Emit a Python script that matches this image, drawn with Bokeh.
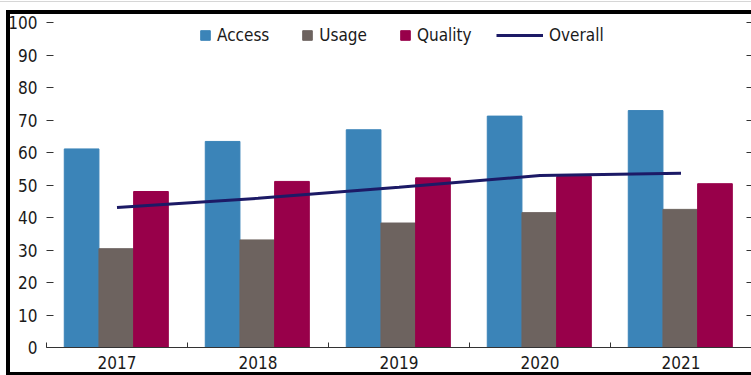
import numpy as np
from bokeh.plotting import figure
from bokeh.models import Range1d, FixedTicker, LinearAxis, Legend, LegendItem, InlineStyleSheet
from bokeh.embed import file_html
from bokeh.resources import INLINE

years = ["2017", "2018", "2019", "2020", "2021"]
access = [61.1, 63.4, 67.0, 71.2, 72.9]
usage = [30.4, 33.1, 38.3, 41.5, 42.5]
quality = [48.0, 51.1, 52.2, 52.6, 50.4]
overall = [43.1, 45.9, 49.3, 52.9, 53.6]
y_ticks = list(range(0, 101, 10))

FONT = "'Liberation Sans Narrow', 'DejaVu Sans Condensed', sans-serif"
C_ACCESS = "#3B84B8"
C_USAGE = "#6D635F"
C_QUALITY = "#98004A"
C_OVERALL = "#1C1A66"
TXT = "#1a1a1a"

pos = np.arange(len(years))
w = 0.246

p = figure(width=751, height=375, x_range=Range1d(-0.5, len(years) - 0.5),
           y_range=Range1d(0, 100), output_backend="svg", toolbar_location=None,
           min_border_left=46, min_border_right=0, min_border_top=22, min_border_bottom=28)
p.outline_line_color = None
p.xgrid.visible = False
p.ygrid.visible = False
p.background_fill_color = "white"
p.border_fill_color = "white"

# x axis
xa = p.xaxis[0]
xa.ticker = FixedTicker(ticks=list(pos), minor_ticks=list(pos - 0.5) + [len(years) - 0.5])
xa.major_label_overrides = {int(i): y for i, y in zip(pos, years)}
xa.major_tick_in = 0
xa.major_tick_out = 0
xa.minor_tick_in = 5
xa.minor_tick_out = 0
xa.axis_line_color = "#333333"
xa.minor_tick_line_color = "#333333"
xa.major_label_standoff = 8
xa.major_label_text_font = FONT
xa.major_label_text_font_size = "17px"
xa.major_label_text_color = TXT

# left y axis
ya = p.yaxis[0]
ya.ticker = FixedTicker(ticks=y_ticks)
ya.major_tick_in = 7
ya.major_tick_out = 0
ya.minor_tick_line_color = None
ya.axis_line_color = None
ya.major_tick_line_color = "#333333"
ya.major_label_standoff = 9
ya.major_label_text_font = FONT
ya.major_label_text_font_size = "17px"
ya.major_label_text_color = TXT

# right y axis (ticks only)
ra = LinearAxis(ticker=FixedTicker(ticks=y_ticks), major_tick_in=5, major_tick_out=0,
                axis_line_color=None, minor_tick_line_color=None,
                major_tick_line_color="#333333",
                major_label_text_font_size="0px", major_label_standoff=0)
ra.major_label_overrides = {t: "" for t in y_ticks}
p.add_layout(ra, "right")

r_a = p.vbar(x=pos - w - 0.005, top=access, width=w, fill_color=C_ACCESS, line_color=C_ACCESS)
r_u = p.vbar(x=pos - 0.005, top=usage, width=w, fill_color=C_USAGE, line_color=C_USAGE)
r_q = p.vbar(x=pos + w - 0.005, top=quality, width=w, fill_color=C_QUALITY, line_color=C_QUALITY)
r_o = p.line(x=pos, y=overall, line_width=3, line_color=C_OVERALL)

common = dict(orientation="horizontal", padding=0, margin=0, border_line_color=None,
              background_fill_alpha=0, label_text_font=FONT, label_text_font_size="17px",
              label_text_color=TXT, label_standoff=6, glyph_height=12, label_height=20)
leg1 = Legend(items=[LegendItem(label="Access", renderers=[r_a]),
                     LegendItem(label="Usage", renderers=[r_u]),
                     LegendItem(label="Quality", renderers=[r_q])],
              location=(153, 302), glyph_width=12, spacing=32, **common)
leg2 = Legend(items=[LegendItem(label="Overall", renderers=[r_o])],
              location=(450, 302), glyph_width=47, spacing=0, **common)
p.add_layout(leg1)
p.add_layout(leg2)

# outer black frame (as in the source image) drawn via a stylesheet overlay
frame_css = InlineStyleSheet(css="""
:host { position: relative; }
:host::before {
  content: ''; position: absolute; left: 0px; top: 1px; width: 751px; height: 1px;
  background: #d6d6d6; pointer-events: none; z-index: 10;
}
:host::after {
  content: ''; position: absolute; left: 6px; top: 10px; width: 745px; height: 365px;
  box-sizing: border-box; border-left: 4px solid black; border-top: 4px solid black;
  border-bottom: 3px solid black; pointer-events: none; z-index: 10;
}
""")
p.stylesheets = [frame_css]

open("out.html", "w").write(file_html(p, INLINE))
